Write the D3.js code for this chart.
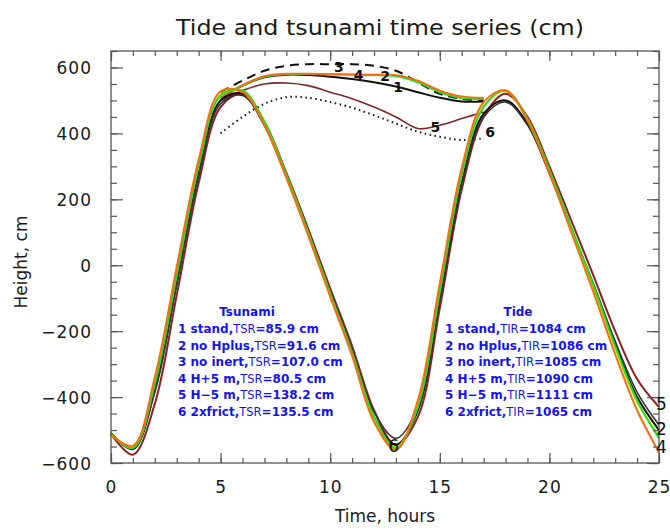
<!DOCTYPE html>
<html>
<head>
<meta charset="utf-8">
<script src="https://cdn.jsdelivr.net/npm/d3@7"></script>
<style>
  body { margin: 0; background: #fff; }
  text { font-family: "DejaVu Sans", "Liberation Sans", Arial, sans-serif; }
</style>
</head>
<body>
<div class="svg-container"></div>
<script>
//Data: tide runs, hourly 0..25
const hours = [0,1,2,3,4,5,6,7,8,9,10,11,12,13,14,15,16,17,18,19,20,21,22,23,24,25];
const tide1 = [-510,-558,-380,-50,280,500,520,425,270,95,-90,-265,-460,-545,-440,-100,250,460,500,430,280,110,-60,-240,-400,-500];
const tide2 = [-512,-555,-360,-30,300,515,530,435,275,100,-85,-265,-460,-555,-430,-80,275,480,530,445,290,115,-60,-245,-410,-525];
const tide3 = [-512,-553,-355,-25,305,518,528,433,272,97,-88,-267,-462,-552,-425,-75,280,482,528,440,285,110,-65,-250,-415,-515];
const tide4 = [-515,-548,-340,-5,320,528,525,425,265,90,-95,-275,-475,-560,-410,-55,295,495,530,440,280,100,-80,-270,-440,-568];
const tide5 = [-512,-575,-420,-90,250,480,520,435,280,110,-70,-245,-440,-545,-460,-130,230,450,520,450,300,135,-30,-200,-345,-430];
const tide6 = [-508,-555,-385,-60,270,490,515,425,272,100,-80,-255,-445,-525,-430,-100,245,450,495,425,278,110,-55,-230,-385,-485];

//Data: tsunami runs, hourly 5..17
const tsuHours = [5,6,7,8,9,10,11,12,13,14,15,16,17];
const tsu1 = [507,545,570,578,577,572,565,555,542,525,508,497,497];
const tsu2 = [507,545,572,580,580,579,578,577,574,555,525,507,505];
const tsu3 = [525,560,590,605,610,610,610,605,590,555,520,505,500];
const tsu4 = [507,547,574,581,581,580,579,578,577,560,530,512,508];
const tsu5 = [500,530,550,553,545,525,505,480,450,415,425,445,465];
const tsu6 = [400,450,490,510,508,495,478,455,430,405,390,380,385];

const xTicks = [0,5,10,15,20,25];
const yTicks = [-600,-400,-200,0,200,400,600];

const tsuLegend = ['1 stand,|TSR|=85.9 cm','2 no Hplus,|TSR|=91.6 cm','3 no inert,|TSR|=107.0 cm',
                   '4 H+5 m,|TSR|=80.5 cm','5 H\u22125 m,|TSR|=138.2 cm','6 2xfrict,|TSR|=135.5 cm'];
const tideLegend = ['1 stand,|TIR|=1084 cm','2 no Hplus,|TIR|=1086 cm','3 no inert,|TIR|=1085 cm',
                    '4 H+5 m,|TIR|=1090 cm','5 H\u22125 m,|TIR|=1111 cm','6 2xfrict,|TIR|=1065 cm'];

////////////////////////////////////////////////////////
const svg = d3.select('.svg-container')
    .append('svg')
    .attr('width', 670)
    .attr('height', 530);

const x = d3.scaleLinear().domain([0, 25]).range([111, 659]);
const y = d3.scaleLinear().domain([-600, 650]).range([463, 51]);

const axisColor = '#555';
const ink = '#1a1a1a';

//curves
const line = d3.line()
    .x(d => x(d[0]))
    .y(d => y(d[1]))
    .curve(d3.curveCatmullRom.alpha(0.5));

function draw(ts, vals, color, width, dash) {
  svg.append('path')
    .datum(ts.map((t, i) => [t, vals[i]]))
    .attr('fill', 'none')
    .attr('stroke', color)
    .attr('stroke-width', width)
    .attr('stroke-dasharray', dash || null)
    .attr('stroke-linejoin', 'round')
    .attr('d', line);
}

//tsunami runs
draw(tsuHours, tsu6, '#111', 2, '1.5,3.5');
draw(tsuHours, tsu3, '#111', 2, '9,6');
draw(tsuHours, tsu5, '#7a2a2a', 1.6);
draw(tsuHours, tsu1, '#111', 2);
draw(tsuHours, tsu2, '#22dd22', 2);
draw(tsuHours, tsu4, '#ff6a10', 1.8);

//tide runs
draw(hours, tide5, '#8b2020', 2);
draw(hours, tide1, '#111', 2);
draw(hours, tide6, '#333', 1.6);
draw(hours, tide3, '#e6e600', 2);
draw(hours, tide2, '#22dd22', 2);
draw(hours, tide4, '#ff6a10', 2);

//frame and ticks
svg.append('rect')
  .attr('x', x(0)).attr('y', y(650))
  .attr('width', x(25) - x(0)).attr('height', y(-600) - y(650))
  .attr('fill', 'none').attr('stroke', axisColor).attr('stroke-width', 1.3);

const xb = svg.append('g').attr('transform', `translate(0,${y(-600)})`)
  .call(d3.axisBottom(x).tickValues(xTicks).tickSize(-10).tickFormat(d3.format('d')).tickPadding(18));
const xt = svg.append('g').attr('transform', `translate(0,${y(650)})`)
  .call(d3.axisTop(x).tickValues(xTicks).tickSize(-10).tickFormat(''));
const xbm = svg.append('g').attr('transform', `translate(0,${y(-600)})`)
  .call(d3.axisBottom(x).ticks(25).tickSize(-5).tickFormat(''));
const xtm = svg.append('g').attr('transform', `translate(0,${y(650)})`)
  .call(d3.axisTop(x).ticks(25).tickSize(-5).tickFormat(''));

const yMinor = d3.range(-600, 651, 50);
const yl = svg.append('g').attr('transform', `translate(${x(0)},0)`)
  .call(d3.axisLeft(y).tickValues(yTicks).tickSize(-12).tickPadding(19)
    .tickFormat(d => d < 0 ? '\u2212' + Math.abs(d) : d));
const yr = svg.append('g').attr('transform', `translate(${x(25)},0)`)
  .call(d3.axisRight(y).tickValues(yTicks).tickSize(-12).tickFormat(''));
const ylm = svg.append('g').attr('transform', `translate(${x(0)},0)`)
  .call(d3.axisLeft(y).tickValues(yMinor).tickSize(-6).tickFormat(''));
const yrm = svg.append('g').attr('transform', `translate(${x(25)},0)`)
  .call(d3.axisRight(y).tickValues(yMinor).tickSize(-6).tickFormat(''));

[xb, xt, xbm, xtm, yl, yr, ylm, yrm].forEach(g => {
  g.select('.domain').remove();
  g.selectAll('line').attr('stroke', axisColor).attr('stroke-width', 1.2);
  g.selectAll('text').attr('font-size', 17).attr('fill', ink)
    .style('letter-spacing', '1px')
    .style('font-family', '"DejaVu Sans", Arial, sans-serif');
});
yl.selectAll('text').attr('dy', '0.36em');

//titles
svg.append('text').attr('x', 176).attr('y', 35)
  .attr('textLength', 408).attr('lengthAdjust', 'spacingAndGlyphs')
  .attr('font-size', 22).attr('fill', ink).text('Tide and tsunami time series (cm)');
svg.append('text').attr('x', 385).attr('y', 522).attr('text-anchor', 'middle')
  .attr('font-size', 17).attr('fill', ink).text('Time, hours');
svg.append('text').attr('transform', 'translate(27,262) rotate(-90)').attr('text-anchor', 'middle')
  .attr('font-size', 17).attr('fill', ink).text('Height, cm');

//curve labels
const curveLabels = [
  {t: '3', h: 10.4, v: 600, s: 14}, {t: '4', h: 11.3, v: 577, s: 14},
  {t: '2', h: 12.5, v: 575, s: 14}, {t: '1', h: 13.1, v: 540, s: 14},
  {t: '5', h: 14.8, v: 420, s: 14}, {t: '6', h: 17.3, v: 404, s: 14},
  {t: '6', h: 12.9, v: -548, s: 17}, {t: '5', h: 25.25, v: -420, s: 17},
  {t: '2', h: 25.25, v: -497, s: 17}, {t: '4', h: 25.25, v: -553, s: 17}
];
svg.selectAll('.clab').data(curveLabels).enter().append('text')
  .attr('class', 'clab')
  .attr('y', d => y(d.v)).attr('dy', '0.35em')
  .attr('text-anchor', d => d.h > 25 ? 'start' : 'middle')
  .attr('font-size', d => d.s).attr('fill', '#111')
  .attr('font-weight', d => d.s < 15 ? 'bold' : 'normal')
  .attr('x', d => d.h > 25 ? x(25) - 3 : x(d.h))
  .text(d => d.t);

//legends
function legend(cx, left, title, rows) {
  const blue = '#1414ee';
  svg.append('text').attr('x', cx).attr('y', 316).attr('text-anchor', 'middle')
    .attr('font-size', 12).attr('font-weight', 'bold').attr('fill', blue).text(title);
  rows.forEach((r, i) => {
    const parts = r.split('|');
    const t = svg.append('text').attr('x', left).attr('y', 333 + i * 16.5)
      .attr('font-size', 12).attr('font-weight', 'bold').attr('fill', blue);
    t.append('tspan').text(parts[0]);
    t.append('tspan').attr('font-weight', 'normal').attr('font-size', 11.5).text(parts[1]);
    t.append('tspan').text(parts[2]);
  });
}
legend(247, 178, 'Tsunami', tsuLegend);
legend(518, 445, 'Tide', tideLegend);
</script>
</body>
</html>
